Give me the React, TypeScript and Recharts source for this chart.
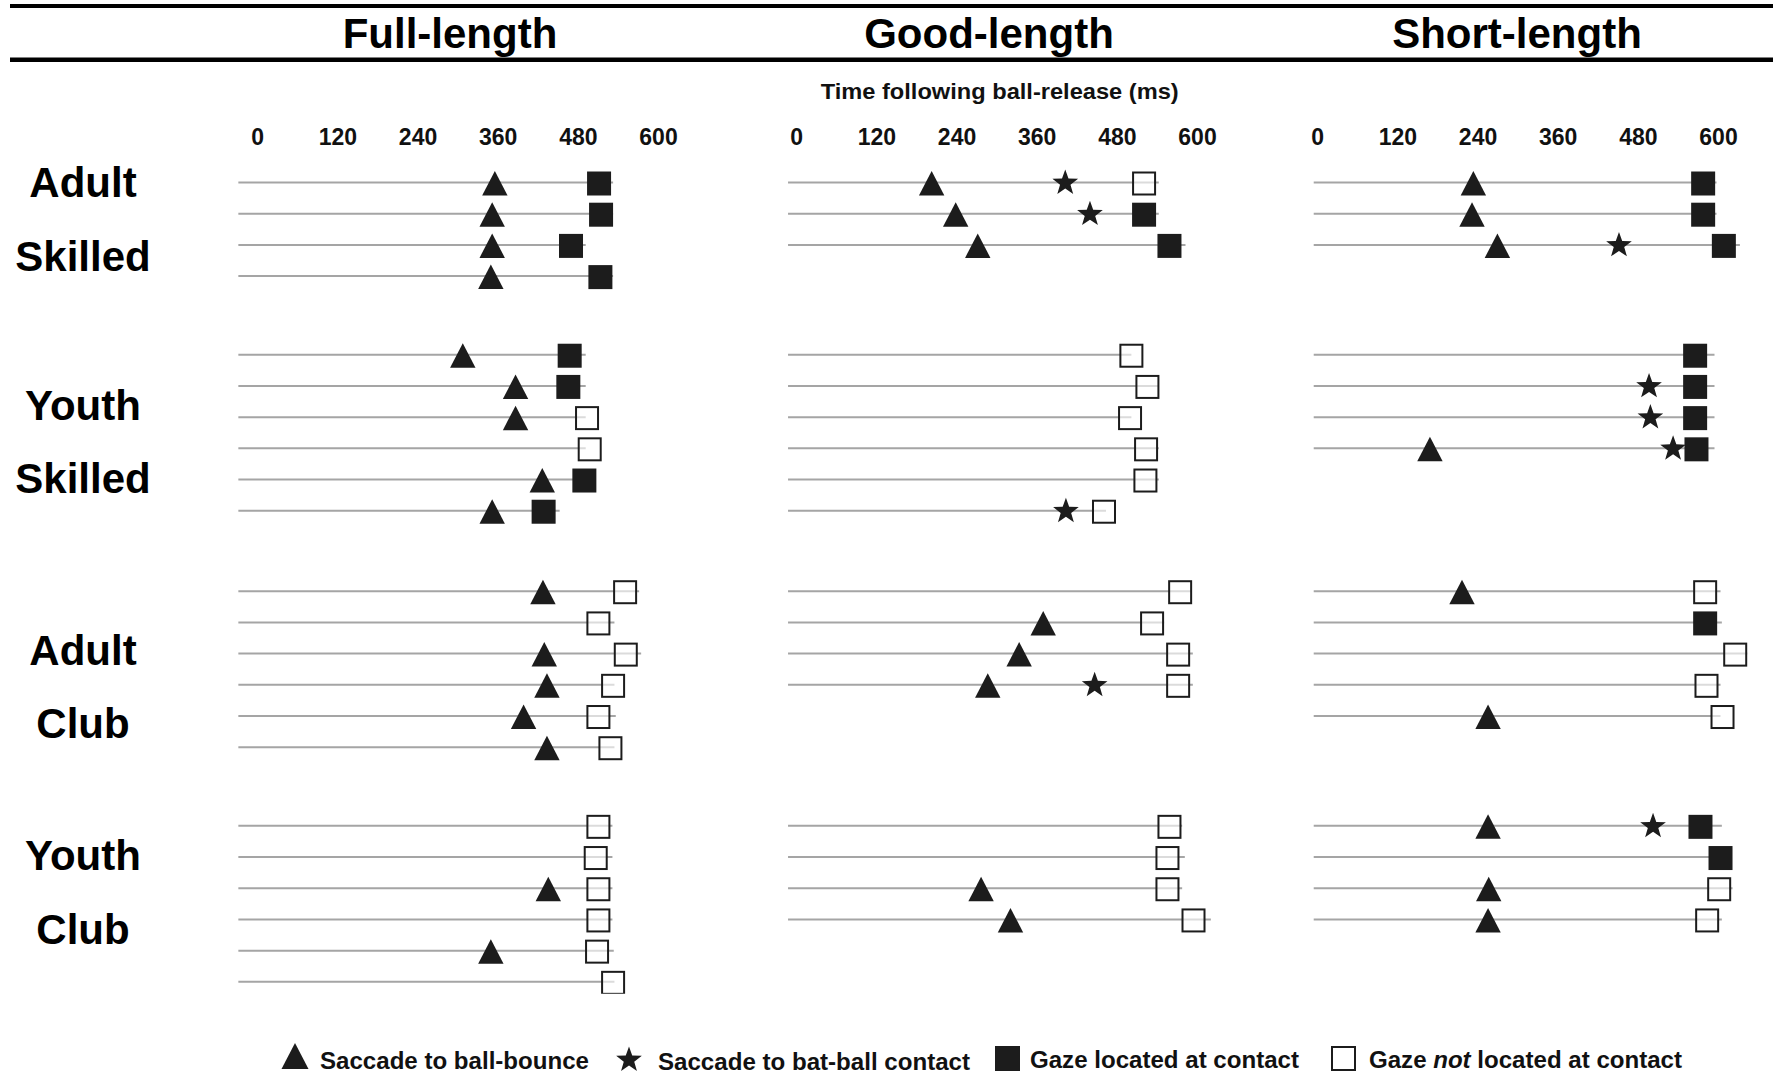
import { ReferenceLine, Scatter, ScatterChart, XAxis, YAxis } from "recharts";

type Row = {
  group: number;
  bounce?: number;
  contact?: number;
  gaze: number;
  atContact: boolean;
  end: number;
};

// group 0 = Adult Skilled, 1 = Youth Skilled, 2 = Adult Club, 3 = Youth Club
const groupLabels = [
  ["Adult", "Skilled"],
  ["Youth", "Skilled"],
  ["Adult", "Club"],
  ["Youth", "Club"],
];

const timeTicks = [0, 120, 240, 360, 480, 600];

const fullLength: Row[] = [
  { group: 0, bounce: 355, gaze: 511, atContact: true, end: 532 },
  { group: 0, bounce: 351, gaze: 514, atContact: true, end: 532 },
  { group: 0, bounce: 351, gaze: 469, atContact: true, end: 491 },
  { group: 0, bounce: 349, gaze: 513, atContact: true, end: 532 },
  { group: 1, bounce: 307, gaze: 467, atContact: true, end: 491 },
  { group: 1, bounce: 386, gaze: 465, atContact: true, end: 491 },
  { group: 1, bounce: 386, gaze: 493, atContact: false, end: 491 },
  { group: 1, gaze: 497, atContact: false, end: 491 },
  { group: 1, bounce: 426, gaze: 489, atContact: true, end: 500 },
  { group: 1, bounce: 351, gaze: 428, atContact: true, end: 452 },
  { group: 2, bounce: 427, gaze: 550, atContact: false, end: 571 },
  { group: 2, gaze: 510, atContact: false, end: 534 },
  { group: 2, bounce: 429, gaze: 551, atContact: false, end: 574 },
  { group: 2, bounce: 433, gaze: 532, atContact: false, end: 534 },
  { group: 2, bounce: 398, gaze: 510, atContact: false, end: 536 },
  { group: 2, bounce: 433, gaze: 528, atContact: false, end: 534 },
  { group: 3, gaze: 510, atContact: false, end: 531 },
  { group: 3, gaze: 506, atContact: false, end: 531 },
  { group: 3, bounce: 435, gaze: 510, atContact: false, end: 531 },
  { group: 3, gaze: 510, atContact: false, end: 531 },
  { group: 3, bounce: 349, gaze: 508, atContact: false, end: 533 },
  { group: 3, gaze: 532, atContact: false, end: 534 },
];

const goodLength: Row[] = [
  { group: 0, bounce: 202, contact: 402, gaze: 520, atContact: false, end: 542 },
  { group: 0, bounce: 238, contact: 439, gaze: 520, atContact: true, end: 542 },
  { group: 0, bounce: 271, gaze: 558, atContact: true, end: 582 },
  { group: 1, gaze: 501, atContact: false, end: 501 },
  { group: 1, gaze: 525, atContact: false, end: 542 },
  { group: 1, gaze: 499, atContact: false, end: 501 },
  { group: 1, gaze: 523, atContact: false, end: 542 },
  { group: 1, gaze: 522, atContact: false, end: 542 },
  { group: 1, contact: 403, gaze: 460, atContact: false, end: 463 },
  { group: 2, gaze: 574, atContact: false, end: 591 },
  { group: 2, bounce: 369, gaze: 532, atContact: false, end: 550 },
  { group: 2, bounce: 333, gaze: 571, atContact: false, end: 593 },
  { group: 2, bounce: 286, contact: 446, gaze: 571, atContact: false, end: 593 },
  { group: 3, gaze: 558, atContact: false, end: 577 },
  { group: 3, gaze: 555, atContact: false, end: 581 },
  { group: 3, bounce: 276, gaze: 555, atContact: false, end: 577 },
  { group: 3, bounce: 320, gaze: 594, atContact: false, end: 620 },
];

const shortLength: Row[] = [
  { group: 0, bounce: 233, gaze: 577, atContact: true, end: 597 },
  { group: 0, bounce: 231, gaze: 577, atContact: true, end: 597 },
  { group: 0, bounce: 269, contact: 451, gaze: 608, atContact: true, end: 632 },
  { group: 1, gaze: 565, atContact: true, end: 594 },
  { group: 1, contact: 496, gaze: 565, atContact: true, end: 594 },
  { group: 1, contact: 498, gaze: 565, atContact: true, end: 594 },
  { group: 1, bounce: 168, contact: 532, gaze: 567, atContact: true, end: 594 },
  { group: 2, bounce: 216, gaze: 580, atContact: false, end: 603 },
  { group: 2, gaze: 580, atContact: true, end: 605 },
  { group: 2, gaze: 625, atContact: false, end: 643 },
  { group: 2, gaze: 582, atContact: false, end: 603 },
  { group: 2, bounce: 255, gaze: 606, atContact: false, end: 603 },
  { group: 3, bounce: 255, contact: 502, gaze: 573, atContact: true, end: 605 },
  { group: 3, gaze: 603, atContact: true, end: 603 },
  { group: 3, bounce: 256, gaze: 601, atContact: false, end: 621 },
  { group: 3, bounce: 255, gaze: 583, atContact: false, end: 605 },
];

const panelTitles = ["Full-length", "Good-length", "Short-length"];
const panelRows = [fullLength, goodLength, shortLength];
// where the grey row lines begin, in ms
const panelLineStart = [-29, -13, -6];

// ---- layout ----
const FONT = "'Liberation Sans', Arial, Helvetica, sans-serif";
const INK = "#1c1c1c";
const LINE = "#a5a5a5";
const X_DOMAIN: [number, number] = [-40, 660];
const PX_PER_MS = 0.668;
const CHART_W = (X_DOMAIN[1] - X_DOMAIN[0]) * PX_PER_MS;
const CHART_H = 1085;
const ROW_H = 31.2;
const Y_DOMAIN: [number, number] = [-1, 26];
const PLOT_TOP = 182.5 - ROW_H;
const PLOT_H = (Y_DOMAIN[1] - Y_DOMAIN[0]) * ROW_H;
const GROUP_OFFSET = [0, 5.52, 13.1, 20.62];
const panelLeft = [258, 796.5, 1318].map((x0) => x0 + X_DOMAIN[0] * PX_PER_MS);
const titleCenter = [450, 989, 1517];
const labelBaselines = [
  [196.7, 271],
  [420, 493.3],
  [665, 738.3],
  [870, 944.3],
];

function starPoints(cx: number, cy: number, outer: number, inner: number) {
  const pts: string[] = [];
  for (let i = 0; i < 10; i++) {
    const r = i % 2 === 0 ? outer : inner;
    const a = ((-90 + i * 36) * Math.PI) / 180;
    pts.push(`${(cx + r * Math.cos(a)).toFixed(2)},${(cy + r * Math.sin(a)).toFixed(2)}`);
  }
  return pts.join(" ");
}

const TriangleMark = ({ cx, cy }: any) =>
  cx == null ? null : (
    <path
      d={`M${cx} ${cy - 11.5}L${cx + 12.7} ${cy + 13}L${cx - 12.7} ${cy + 13}Z`}
      fill={INK}
    />
  );

const StarMark = ({ cx, cy }: any) =>
  cx == null ? null : <polygon points={starPoints(cx, cy + 0.5, 13.5, 5.5)} fill={INK} />;

const FilledSquare = ({ cx, cy }: any) =>
  cx == null ? null : <rect x={cx - 12} y={cy - 11} width={24} height={24} fill={INK} />;

const OpenSquare = ({ cx, cy }: any) =>
  cx == null ? null : (
    <rect
      x={cx - 11}
      y={cy - 10}
      width={22}
      height={22}
      fill="rgba(255,255,255,0.6)"
      stroke={INK}
      strokeWidth={2}
    />
  );

const TimeTick = ({ x, payload }: any) => (
  <text
    x={x}
    y={145}
    textAnchor="middle"
    fontFamily={FONT}
    fontWeight={700}
    fontSize={23}
    fill="#111"
  >
    {payload.value}
  </text>
);

function placeRows(rows: Row[]) {
  const counters = [0, 0, 0, 0];
  return rows.map((r) => ({ ...r, slot: GROUP_OFFSET[r.group] + counters[r.group]++ }));
}

function Panel({ rows, lineStart }: { rows: Row[]; lineStart: number }) {
  const placed = placeRows(rows);
  const bounces = placed.filter((r) => r.bounce != null).map((r) => ({ x: r.bounce, y: r.slot }));
  const contacts = placed.filter((r) => r.contact != null).map((r) => ({ x: r.contact, y: r.slot }));
  const gazeAt = placed.filter((r) => r.atContact).map((r) => ({ x: r.gaze, y: r.slot }));
  const gazeNot = placed.filter((r) => !r.atContact).map((r) => ({ x: r.gaze, y: r.slot }));

  return (
    <ScatterChart
      width={CHART_W}
      height={CHART_H}
      margin={{ top: PLOT_TOP - 40, right: 0, bottom: CHART_H - PLOT_TOP - PLOT_H, left: 0 }}
    >
      <XAxis
        type="number"
        dataKey="x"
        orientation="top"
        domain={X_DOMAIN}
        ticks={timeTicks}
        interval={0}
        height={40}
        axisLine={false}
        tickLine={false}
        tick={TimeTick}
        allowDataOverflow
      />
      <YAxis type="number" dataKey="y" domain={Y_DOMAIN} reversed hide allowDataOverflow />
      {placed.map((r, i) => (
        <ReferenceLine
          key={i}
          segment={[
            { x: lineStart, y: r.slot },
            { x: r.end, y: r.slot },
          ]}
          stroke={LINE}
          strokeWidth={2}
        />
      ))}
      <Scatter data={bounces} shape={TriangleMark} isAnimationActive={false} />
      <Scatter data={contacts} shape={StarMark} isAnimationActive={false} />
      <Scatter data={gazeAt} shape={FilledSquare} isAnimationActive={false} />
      <Scatter data={gazeNot} shape={OpenSquare} isAnimationActive={false} />
    </ScatterChart>
  );
}

function Legend() {
  const text = { fontFamily: FONT, fontWeight: 700, fontSize: 23, fill: "#111" } as const;
  return (
    <g>
      <path d="M295 1043L308.5 1069L281.5 1069Z" fill={INK} />
      <text x={320} y={1069} textLength={269} lengthAdjust="spacingAndGlyphs" {...text}>
        Saccade to ball-bounce
      </text>
      <polygon points={starPoints(629, 1060, 13.5, 5.5)} fill={INK} />
      <text x={658} y={1070} textLength={312} lengthAdjust="spacingAndGlyphs" {...text}>
        Saccade to bat-ball contact
      </text>
      <rect x={995} y={1046} width={25} height={25} fill={INK} />
      <text x={1030} y={1068} textLength={269} lengthAdjust="spacingAndGlyphs" {...text}>
        Gaze located at contact
      </text>
      <rect x={1332} y={1047} width={23} height={23} fill="#fff" stroke={INK} strokeWidth={2} />
      <text x={1369} y={1068} textLength={313} lengthAdjust="spacingAndGlyphs" {...text}>
        Gaze <tspan fontStyle="italic">not</tspan> located at contact
      </text>
    </g>
  );
}

export default function App() {
  return (
    <div
      style={{
        position: "relative",
        width: 1773,
        height: 1085,
        background: "#fff",
        overflow: "hidden",
      }}
    >
      <style>{"body{margin:0}"}</style>
      <svg
        width={1773}
        height={1085}
        style={{ position: "absolute", left: 0, top: 0 }}
      >
        <rect x={10} y={4} width={1763} height={4} fill="#000" />
        <rect x={10} y={57.5} width={1763} height={4.5} fill="#000" />
        {panelTitles.map((t, i) => (
          <text
            key={t}
            x={titleCenter[i]}
            y={47.7}
            textAnchor="middle"
            fontFamily={FONT}
            fontWeight={700}
            fontSize={42}
            fill="#000"
          >
            {t}
          </text>
        ))}
        <text
          x={820.7}
          y={99.3}
          textLength={358}
          lengthAdjust="spacingAndGlyphs"
          fontFamily={FONT}
          fontWeight={700}
          fontSize={22.5}
          fill="#111"
        >
          Time following ball-release (ms)
        </text>
        {groupLabels.map((pair, g) =>
          pair.map((word, j) => (
            <text
              key={`${g}-${j}`}
              x={83}
              y={labelBaselines[g][j]}
              textAnchor="middle"
              fontFamily={FONT}
              fontWeight={700}
              fontSize={42}
              fill="#000"
            >
              {word}
            </text>
          ))
        )}
        <Legend />
      </svg>
      {panelRows.map((rows, i) => (
        <div key={i} style={{ position: "absolute", left: panelLeft[i], top: 0 }}>
          <Panel rows={rows} lineStart={panelLineStart[i]} />
        </div>
      ))}
    </div>
  );
}
